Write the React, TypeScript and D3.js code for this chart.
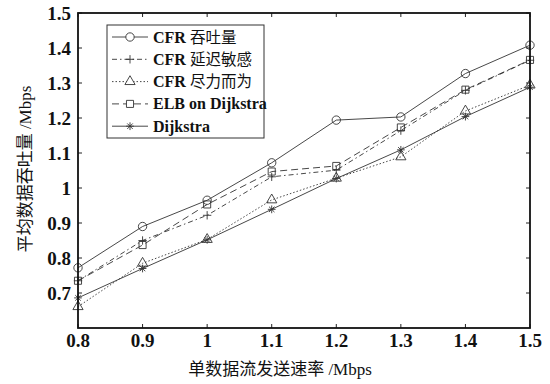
import React, { useEffect, useRef } from 'react';
import * as d3 from 'd3';

const rates = [0.8, 0.9, 1.0, 1.1, 1.2, 1.3, 1.4, 1.5];
const cfrThroughput = [0.772, 0.89, 0.965, 1.072, 1.194, 1.203, 1.327, 1.408];
const cfrDelay = [0.735, 0.85, 0.922, 1.032, 1.051, 1.164, 1.279, 1.365];
const cfrBestEffort = [0.661, 0.785, 0.853, 0.966, 1.028, 1.089, 1.22, 1.294];
const elbDijkstra = [0.735, 0.837, 0.953, 1.047, 1.063, 1.173, 1.281, 1.366];
const dijkstra = [0.686, 0.77, 0.852, 0.939, 1.027, 1.109, 1.204, 1.288];
// legend labels: [latin part, chinese part]
const seriesNames = [['CFR ', '吞吐量'], ['CFR ', '延迟敏感'], ['CFR ', '尽力而为'], ['ELB on Dijkstra', ''], ['Dijkstra', '']];
const xTicks = [0.8, 0.9, 1, 1.1, 1.2, 1.3, 1.4, 1.5];
const yTicks = [0.7, 0.8, 0.9, 1, 1.1, 1.2, 1.3, 1.4, 1.5];

const FONT = '"Liberation Serif", "Times New Roman", "Noto Sans CJK SC", serif';

// custom marker shapes for d3.symbol
const plus = {
  draw(ctx: any, size: number) {
    const r = Math.sqrt(size) / 2;
    ctx.moveTo(-r, 0); ctx.lineTo(r, 0);
    ctx.moveTo(0, -r); ctx.lineTo(0, r);
  }
};
const asterisk = {
  draw(ctx: any, size: number) {
    const r = Math.sqrt(size) / 2;
    for (let i = 0; i < 4; i++) {
      const a = (i * Math.PI) / 4;
      ctx.moveTo(-r * Math.cos(a), -r * Math.sin(a));
      ctx.lineTo(r * Math.cos(a), r * Math.sin(a));
    }
  }
};

function Chart() {
  const svgRef = useRef<SVGSVGElement>(null);

  useEffect(() => {
    if (!svgRef.current) return;
    const svg = d3.select(svgRef.current);
    svg.selectAll('*').remove();

    const left = 78, right = 530, top = 13, bottom = 328;
    const x = d3.scaleLinear().domain([0.8, 1.5]).range([left, right]);
    const y = d3.scaleLinear().domain([0.6, 1.5]).range([bottom, top]);

    const series = [
      { name: seriesNames[0], values: cfrThroughput, dash: null, symbol: d3.symbolCircle, size: 55 },
      { name: seriesNames[1], values: cfrDelay, dash: '5,3,1.5,3', symbol: plus, size: 70 },
      { name: seriesNames[2], values: cfrBestEffort, dash: '1.5,2', symbol: d3.symbolTriangle, size: 45 },
      { name: seriesNames[3], values: elbDijkstra, dash: '7,4', symbol: d3.symbolSquare, size: 50 },
      { name: seriesNames[4], values: dijkstra, dash: null, symbol: asterisk, size: 60 },
    ];

    // ticks inward on all four sides
    const tickLen = 4;
    const axes = svg.append('g').attr('stroke', '#222').attr('stroke-width', 1);
    xTicks.forEach(t => {
      axes.append('line').attr('x1', x(t)).attr('x2', x(t)).attr('y1', bottom).attr('y2', bottom - tickLen);
      axes.append('line').attr('x1', x(t)).attr('x2', x(t)).attr('y1', top).attr('y2', top + tickLen);
    });
    yTicks.forEach(t => {
      axes.append('line').attr('x1', left).attr('x2', left + tickLen).attr('y1', y(t)).attr('y2', y(t));
      axes.append('line').attr('x1', right).attr('x2', right - tickLen).attr('y1', y(t)).attr('y2', y(t));
    });

    // tick labels
    svg.append('g').selectAll('text').data(xTicks).join('text')
      .attr('x', d => x(d)).attr('y', 347)
      .attr('text-anchor', 'middle')
      .attr('font-family', FONT).attr('font-size', 19).attr('font-weight', 'bold')
      .attr('fill', '#111')
      .text(d => String(d));
    svg.append('g').selectAll('text').data(yTicks).join('text')
      .attr('x', 71).attr('y', d => y(d) + 6.5)
      .attr('text-anchor', 'end')
      .attr('font-family', FONT).attr('font-size', 19).attr('font-weight', 'bold')
      .attr('fill', '#111')
      .text(d => String(d));

    // axis titles
    svg.append('text')
      .attr('x', 280).attr('y', 375)
      .attr('text-anchor', 'middle')
      .attr('font-family', FONT).attr('font-size', 17)
      .attr('fill', '#111')
      .text('单数据流发送速率 /Mbps');
    svg.append('text')
      .attr('transform', `translate(31, 169) rotate(-90)`)
      .attr('text-anchor', 'middle')
      .attr('font-family', FONT).attr('font-size', 17)
      .attr('fill', '#111')
      .text('平均数据吞吐量 /Mbps');

    // lines and markers
    const line = d3.line<number>()
      .x((d, i) => x(rates[i]))
      .y(d => y(d));

    series.forEach(s => {
      svg.append('path')
        .datum(s.values)
        .attr('fill', 'none')
        .attr('stroke', '#333')
        .attr('stroke-width', 0.9)
        .attr('stroke-dasharray', s.dash)
        .attr('d', line);
      svg.append('g').selectAll('path').data(s.values).join('path')
        .attr('transform', (d, i) => `translate(${x(rates[i])},${y(d)})`)
        .attr('d', d3.symbol().type(s.symbol as any).size(s.size)())
        .attr('fill', 'none')
        .attr('stroke', '#333')
        .attr('stroke-width', 0.9);
    });

    // legend
    const lg = svg.append('g');
    lg.append('rect')
      .attr('x', 107).attr('y', 25).attr('width', 157).attr('height', 113)
      .attr('fill', 'white').attr('stroke', '#333').attr('stroke-width', 1);
    series.forEach((s, i) => {
      const ly = 37 + i * 22.3;
      lg.append('line')
        .attr('x1', 112).attr('x2', 148).attr('y1', ly).attr('y2', ly)
        .attr('stroke', '#333').attr('stroke-width', 0.9)
        .attr('stroke-dasharray', s.dash);
      lg.append('path')
        .attr('transform', `translate(130,${ly})`)
        .attr('d', d3.symbol().type(s.symbol as any).size(s.size)())
        .attr('fill', 'white').attr('stroke', '#333').attr('stroke-width', 0.9);
      const t = lg.append('text')
        .attr('x', 153).attr('y', ly + 5.5)
        .attr('font-family', FONT).attr('font-size', 16)
        .attr('fill', '#111');
      t.append('tspan').attr('font-weight', 'bold').text(s.name[0]);
      if (s.name[1]) t.append('tspan').attr('font-weight', 'normal').attr('font-size', 15.5).text(s.name[1]);
    });

    // plot frame
    svg.append('rect')
      .attr('x', left).attr('y', top).attr('width', right - left).attr('height', bottom - top)
      .attr('fill', 'none').attr('stroke', '#111').attr('stroke-width', 1.8);
  }, []);

  return <svg ref={svgRef} width={550} height={384} style={{ position: 'absolute', left: 0, top: 0, background: 'white' }} />;
}

export default function App() {
  return <Chart />;
}
